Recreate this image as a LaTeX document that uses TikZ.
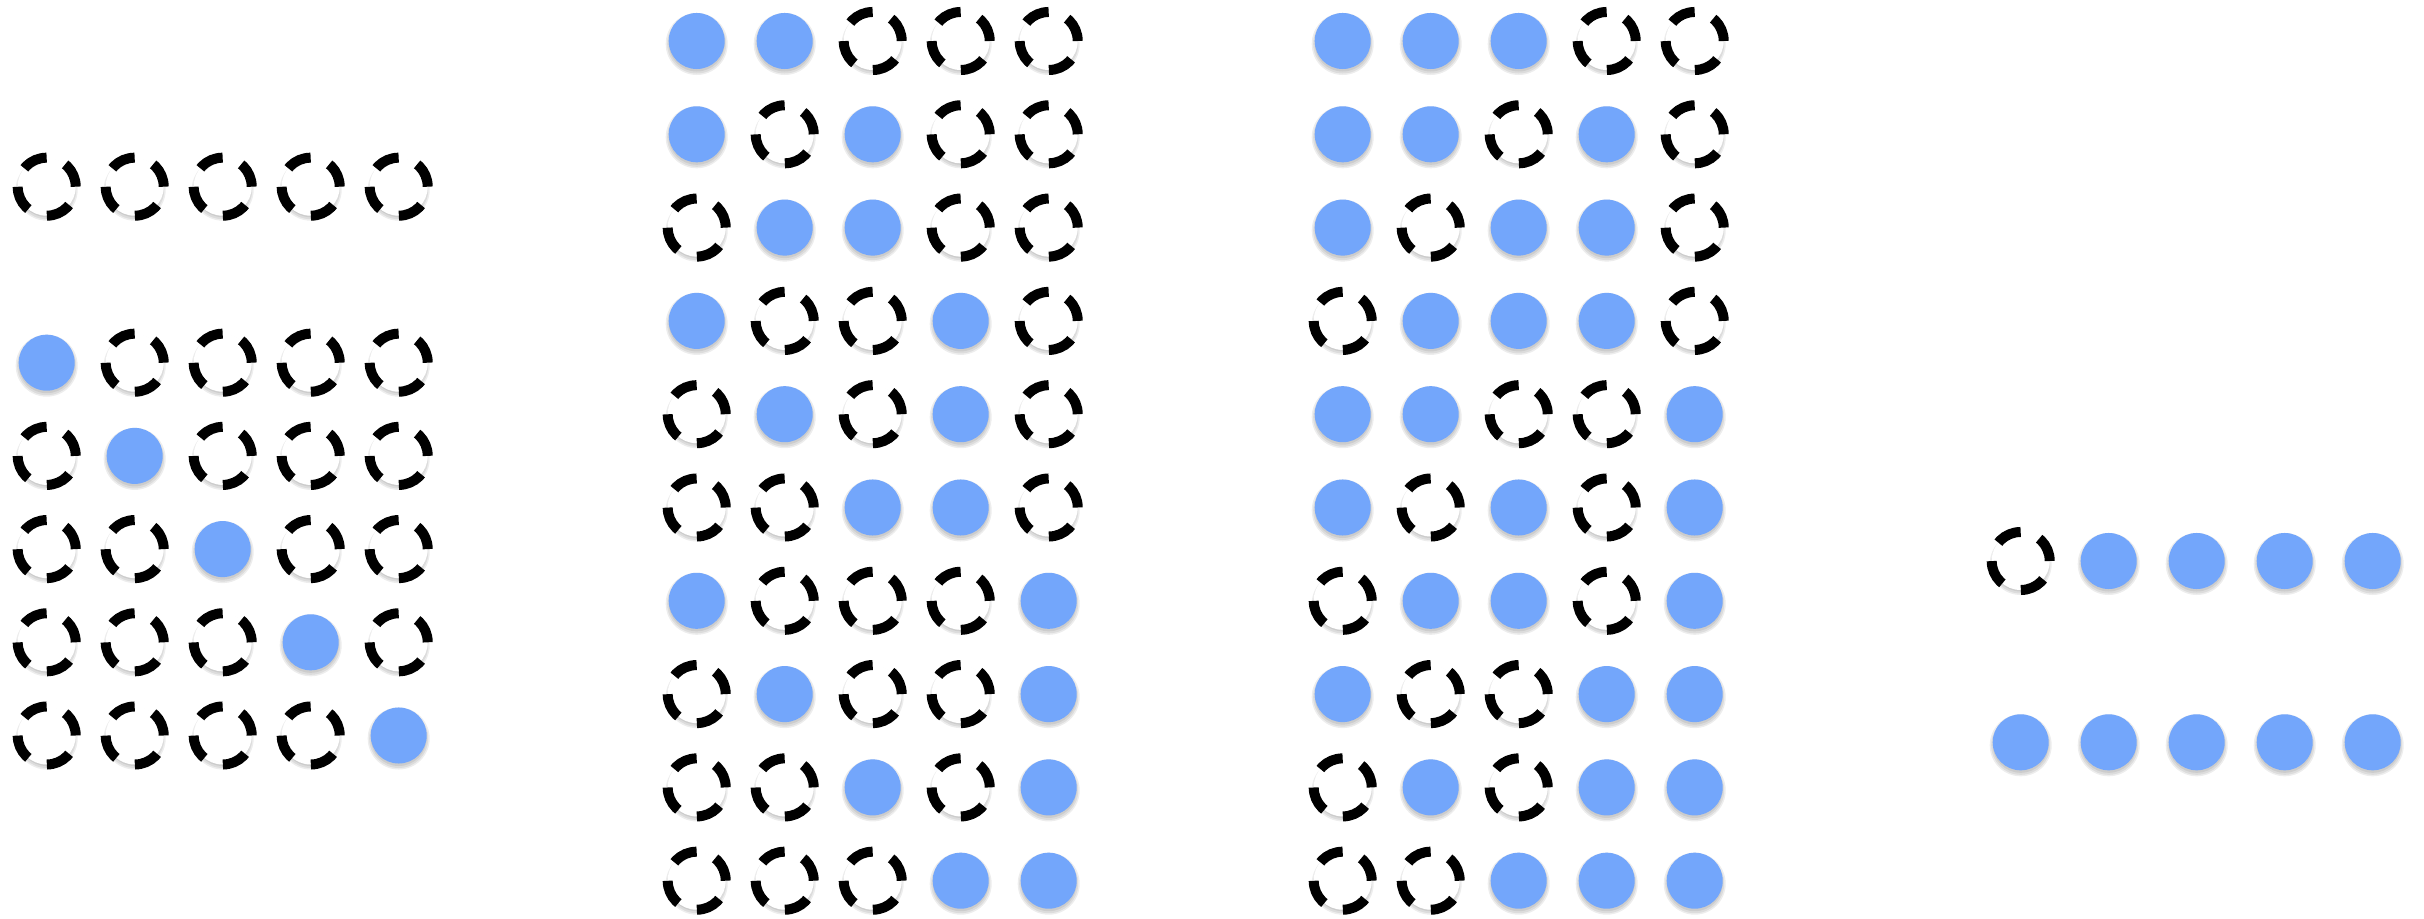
\documentclass[tikz,border=0pt]{standalone}
\definecolor{dotblue}{RGB}{115,166,251}
\tikzset{
  dotshadow/.style={fill=black, opacity=0.07},
  bluedot/.style={circle, fill=dotblue, minimum size=0.56cm, inner sep=0pt, outer sep=0pt},
  dashdot/.style={circle, fill=white, draw=black, line width=0.10cm,
     dash pattern=on 0.255cm off 0.2005cm, minimum size=0.58cm, inner sep=0pt, outer sep=0pt},
}
\newcommand{\mydot}[4]{% name, x, y, kind
  \fill[dotshadow] ($(#2,#3)+(0,3)$) circle (0.31cm);
  \fill[dotshadow] ($(#2,#3)+(0,3)$) circle (0.295cm);
  \fill[dotshadow] ($(#2,#3)+(0,2.5)$) circle (0.28cm);
  \if B#4 \node[bluedot] (#1) at (#2,#3) {};\else \node[dashdot] (#1) at (#2,#3) {};\fi
}
\usetikzlibrary{calc}
\begin{document}
\begin{tikzpicture}[x=0.01cm,y=-0.01cm]
\useasboundingbox[fill=white] (0,0) rectangle (2424,919);
% panel 1, top row
\foreach \t [count=\c from 0] in {D,D,D,D,D} {
  \mydot{pa-top-\c}{46.7+88*\c}{186.7}{\t}
}
% panel 1, lower block
\foreach \row [count=\r from 0] in {{B,D,D,D,D},{D,B,D,D,D},{D,D,B,D,D},{D,D,D,B,D},{D,D,D,D,B}} {
  \foreach \t [count=\c from 0] in \row {
    \mydot{pa-\r-\c}{46.7+88*\c}{362.7+93.2*\r}{\t}
  }
}
% panel 2
\foreach \row [count=\r from 0] in {{B,B,D,D,D},{B,D,B,D,D},{D,B,B,D,D},{B,D,D,B,D},{D,B,D,B,D},{D,D,B,B,D},{B,D,D,D,B},{D,B,D,D,B},{D,D,B,D,B},{D,D,D,B,B}} {
  \foreach \t [count=\c from 0] in \row {
    \mydot{pb-\r-\c}{696.7+88*\c}{41+93.3*\r}{\t}
  }
}
% panel 3
\foreach \row [count=\r from 0] in {{B,B,B,D,D},{B,B,D,B,D},{B,D,B,B,D},{D,B,B,B,D},{B,B,D,D,B},{B,D,B,D,B},{D,B,B,D,B},{B,D,D,B,B},{D,B,D,B,B},{D,D,B,B,B}} {
  \foreach \t [count=\c from 0] in \row {
    \mydot{pc-\r-\c}{1342.7+88*\c}{41+93.3*\r}{\t}
  }
}
% panel 4
\foreach \row [count=\r from 0] in {{D,B,B,B,B},{B,B,B,B,B}} {
  \foreach \t [count=\c from 0] in \row {
    \mydot{pd-\r-\c}{2020.7+88*\c}{561+181.3*\r}{\t}
  }
}
\end{tikzpicture}
\end{document}
